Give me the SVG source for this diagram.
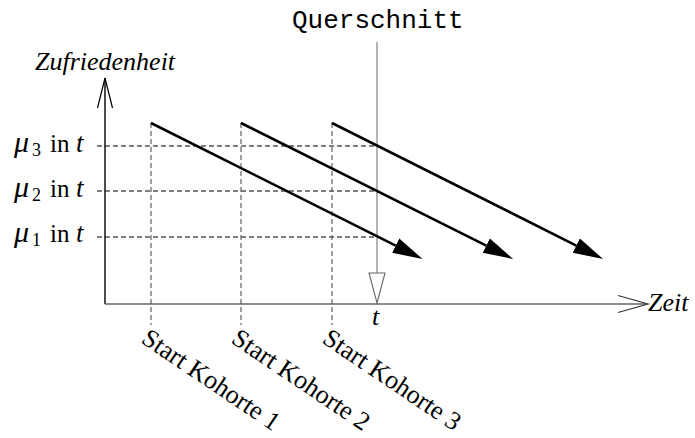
<svg xmlns="http://www.w3.org/2000/svg" width="695" height="438" viewBox="0 0 695 438">
<style>
.serif{font-family:"Liberation Serif","Times New Roman",serif;font-size:26px;fill:#000}
.it{font-style:italic}
.lbl{font-family:"Liberation Serif","Times New Roman",serif;font-size:25px;fill:#000}
.mono{font-family:"Liberation Mono","Courier New",monospace;font-size:26px;fill:#000}
.hdash{stroke:#000;stroke-width:1.1;stroke-dasharray:5 3;fill:none}
.vdash{stroke:#555;stroke-width:1.1;stroke-dasharray:5 3;fill:none}
.cohort{stroke:#000;stroke-width:2.6;fill:none;marker-end:url(#ah)}
</style>
<defs>
<marker id="ah" markerUnits="userSpaceOnUse" markerWidth="32" markerHeight="20" viewBox="0 0 32 20" refX="0" refY="10" orient="auto">
<path d="M0,2 L30,10 L0,18 Z" fill="#000"/>
</marker>
</defs>
<rect width="695" height="438" fill="#fff"/>
<g id="axes">
<line x1="105" y1="304" x2="105" y2="78" stroke="#000" stroke-width="1.4"/>
<polyline points="97.5,108 105,78 112.5,108" fill="none" stroke="#000" stroke-width="1.2"/>
<line x1="105" y1="304" x2="647" y2="304" stroke="#666" stroke-width="1.6"/>
<polyline points="618,295.5 648,304 618,312.5" fill="none" stroke="#333" stroke-width="1.2"/>
<text class="serif it" x="35" y="70">Zufriedenheit</text>
<text class="serif it" x="648" y="311">Zeit</text>
</g>
<g id="levels">
<line class="hdash" x1="97" y1="146" x2="377" y2="146"/>
<line class="hdash" x1="97" y1="191" x2="377" y2="191"/>
<line class="hdash" x1="97" y1="237" x2="377" y2="237"/>
<text class="lbl" y="152"><tspan class="it" x="14" font-size="30">μ</tspan><tspan x="32" y="156" font-size="18">3</tspan><tspan x="50" y="152">in</tspan><tspan class="it" x="76" y="152" font-size="27">t</tspan></text>
<text class="lbl" y="197"><tspan class="it" x="14" font-size="30">μ</tspan><tspan x="32" y="201" font-size="18">2</tspan><tspan x="50" y="197">in</tspan><tspan class="it" x="76" y="197" font-size="27">t</tspan></text>
<text class="lbl" y="242"><tspan class="it" x="14" font-size="30">μ</tspan><tspan x="32" y="246" font-size="18">1</tspan><tspan x="50" y="242">in</tspan><tspan class="it" x="76" y="242" font-size="27">t</tspan></text>
</g>
<g id="querschnitt">
<text class="mono" x="292" y="28">Querschnitt</text>
<line x1="377" y1="42" x2="377" y2="273" stroke="#777" stroke-width="1.1"/>
<polygon points="369,273 385,273 377,303" fill="#fff" stroke="#666" stroke-width="1.1"/>
<text class="serif it" x="372" y="325" font-size="27">t</text>
</g>
<g id="kohorte1">
<line class="vdash" x1="151" y1="123" x2="151" y2="325"/>
<text class="serif" transform="translate(140,342) rotate(34)" font-size="27">Start Kohorte 1</text>
</g>
<g id="kohorte2">
<line class="vdash" x1="241" y1="123" x2="241" y2="325"/>
<text class="serif" transform="translate(230,342) rotate(34)" font-size="27">Start Kohorte 2</text>
</g>
<g id="kohorte3">
<line class="vdash" x1="332" y1="123" x2="332" y2="325"/>
<text class="serif" transform="translate(321,342) rotate(34)" font-size="27">Start Kohorte 3</text>
</g>
<g id="connectors">
<line class="cohort" x1="151" y1="123" x2="395.7" y2="245.6"/>
<line class="cohort" x1="241" y1="123" x2="486.3" y2="245.6"/>
<line class="cohort" x1="332" y1="123" x2="576.3" y2="245.6"/>
</g>
</svg>
